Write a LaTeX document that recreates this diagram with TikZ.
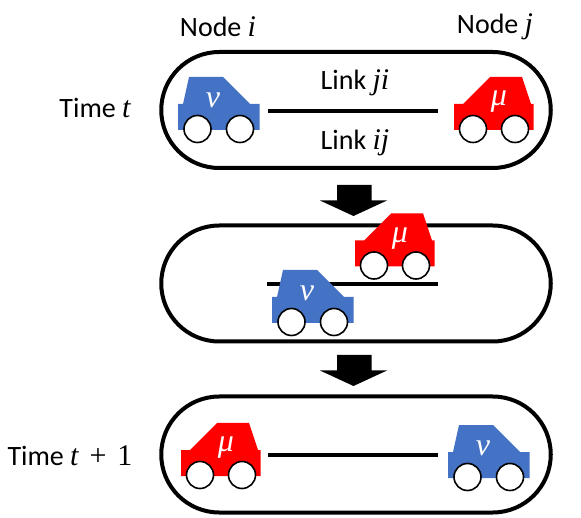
\documentclass[tikz,border=0pt]{standalone}
\usepackage{fontspec}
\setmainfont{Carlito}
\newfontfamily\varfont{Liberation Serif}
\newcommand{\vr}[1]{{\fontsize{30}{30}\selectfont\varfont\itshape #1}}
\newcommand{\vu}[1]{{\fontsize{30}{30}\selectfont\varfont #1}}
\newcommand{\cl}[1]{{\fontsize{32}{32}\selectfont\varfont\itshape #1}}
\definecolor{carblue}{HTML}{4472C4}
\definecolor{carred}{HTML}{FF0000}
\tikzset{
  capsule/.style={draw=black,line width=4pt,rounded corners=58pt,minimum width=389.5pt,minimum height=116pt,inner sep=0pt},
  linkline/.style={draw=black,line width=3.4pt},
  label/.style={font=\fontsize{28}{30}\selectfont,inner sep=0pt,text=black},
  carletter/.style={text=white,inner sep=0pt},
  wheel/.style={draw=black,fill=white,line width=1.6pt,circle,minimum size=27pt,inner sep=0pt},
  blockarrow/.style={fill=black,draw=none},
  pics/bluecar/.style={code={
    \fill[carblue] (178,104)--(183,104)--(189,77)--(223,77)--(250,104)--(259.5,104)--(259.5,130)--(178,130)--cycle;
    \node[wheel] at (197.5,129) {};
    \node[wheel] at (240,129) {};
    \node[carletter] at (213,100) {\cl{ν}};
  }},
  pics/redcar/.style={code={
    \fill[carred] (454,104)--(463,104)--(490,77)--(522,77)--(531,104)--(533.5,104)--(533.5,130)--(454,130)--cycle;
    \node[wheel] at (473,129) {};
    \node[wheel] at (515,129) {};
    \node[carletter] at (499,102) {\cl{μ}};
  }},
}
\begin{document}
\begin{tikzpicture}[x=1pt,y=-1pt]
\useasboundingbox (0,0) rectangle (581,518);
% capsules
\node[capsule] (capA) at (356,110) {};
\node[capsule] (capB) at (356,283.5) {};
\node[capsule] (capC) at (356,454.5) {};
% links
\coordinate (a1) at (268,111); \coordinate (a2) at (438,111);
\coordinate (b1) at (267,284); \coordinate (b2) at (438,284);
\coordinate (c1) at (268,455); \coordinate (c2) at (438,455);
\draw[linkline] (a1) -- (a2);
\draw[linkline] (b1) -- (b2);
\draw[linkline] (c1) -- (c2);
% block arrows
\fill[blockarrow] (337,185)--(371.5,185)--(371.5,200.5)--(387,200.5)--(353.5,216)--(320,200.5)--(337,200.5)--cycle;
\fill[blockarrow] (337,355)--(371.5,355)--(371.5,370.5)--(387,370.5)--(353.5,386)--(320,370.5)--(337,370.5)--cycle;
% cars
\pic at (0,0) {bluecar};
\pic at (0,0) {redcar};
\pic at (-99,136.5) {redcar};
\pic at (94,193) {bluecar};
\pic at (-273,346) {redcar};
\pic at (270,348) {bluecar};
% labels
\node[label] (ni) at (218,27) {Node \vr{i}};
\node[label] (nj) at (495,27) {Node \vr{j}};
\node[label] (ti) at (95,108) {Time \vr{t}};
\node[label] (lji) at (355,83) {Link \vr{ji}};
\node[label] (lij) at (355,143) {Link \vr{ij}};
\node[label] (tn) at (70,456) {Time \vr{t}\hspace{11pt}\vu{+}\hspace{11pt}\vu{1}};
\end{tikzpicture}
\end{document}
